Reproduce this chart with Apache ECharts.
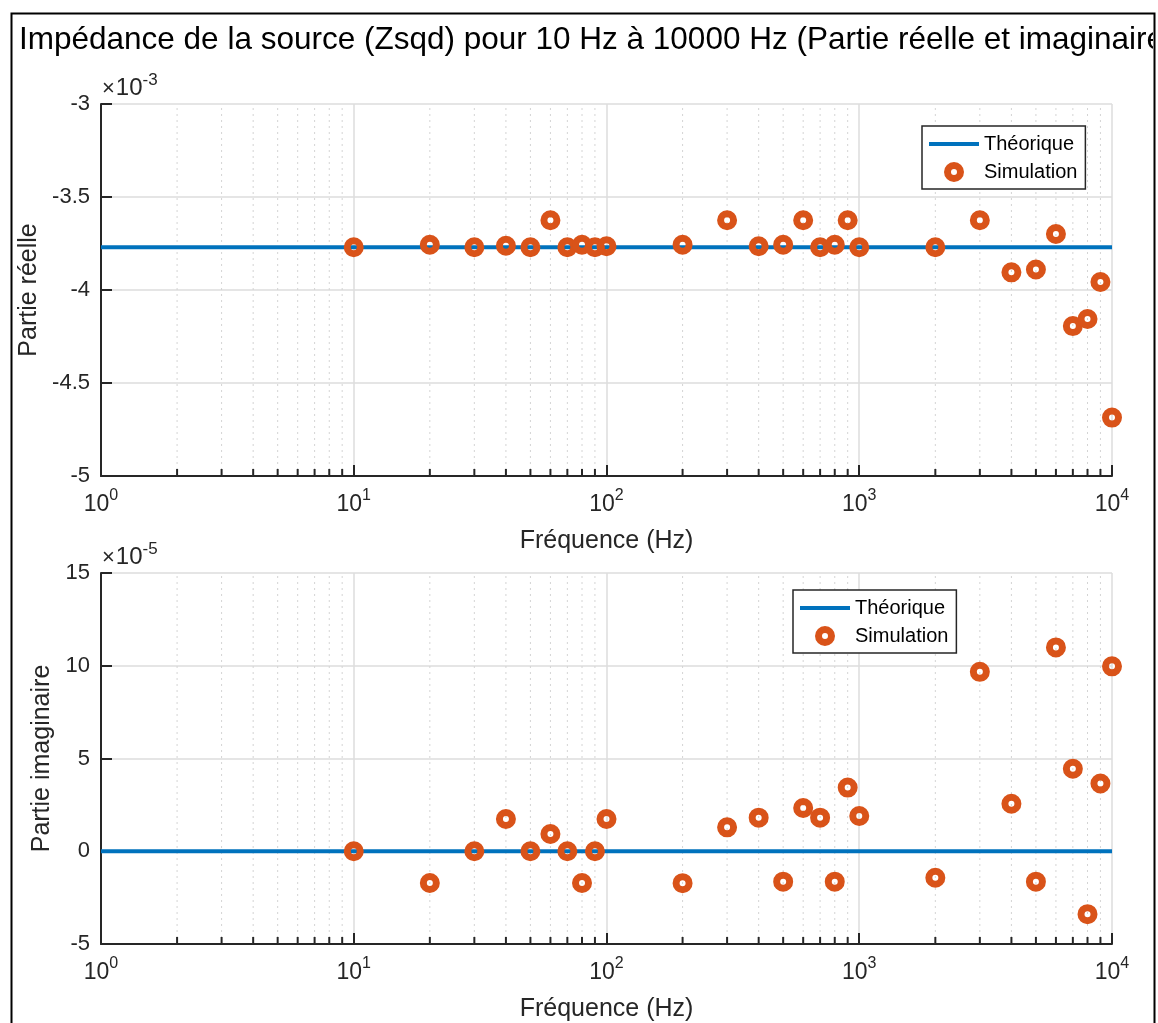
<!DOCTYPE html>
<html>
<head>
<meta charset="utf-8">
<script src="https://cdn.jsdelivr.net/npm/echarts@6/dist/echarts.min.js"></script>
<style>
  html, body { margin: 0; padding: 0; background: #fff; }
  #chart { width: 1158px; height: 1023px; }
</style>
</head>
<body>
<div id="chart"></div>
<script>
// Fréquences simulées (Hz)
const freq = [10, 20, 30, 40, 50, 60, 70, 80, 90, 100,
              200, 300, 400, 500, 600, 700, 800, 900, 1000,
              2000, 3000, 4000, 5000, 6000, 7000, 8000, 9000, 10000];

// Partie réelle de Zsqd (simulation)
const simReelle = [-3.770e-3, -3.757e-3, -3.770e-3, -3.762e-3, -3.770e-3, -3.625e-3, -3.770e-3, -3.757e-3, -3.770e-3, -3.765e-3,
                   -3.757e-3, -3.625e-3, -3.765e-3, -3.757e-3, -3.625e-3, -3.770e-3, -3.757e-3, -3.625e-3, -3.770e-3,
                   -3.770e-3, -3.625e-3, -3.905e-3, -3.890e-3, -3.699e-3, -4.194e-3, -4.156e-3, -3.957e-3, -4.686e-3];

// Partie imaginaire de Zsqd (simulation)
const simImag = [0, -1.71e-5, 0, 1.74e-5, 0, 0.93e-5, 0, -1.71e-5, 0, 1.74e-5,
                 -1.72e-5, 1.29e-5, 1.81e-5, -1.64e-5, 2.33e-5, 1.81e-5, -1.64e-5, 3.43e-5, 1.90e-5,
                 -1.43e-5, 9.67e-5, 2.56e-5, -1.64e-5, 10.99e-5, 4.45e-5, -3.39e-5, 3.65e-5, 9.97e-5];

// Valeurs théoriques (constantes sur toute la plage)
const theoFreq = [1, 10000];
const theoReelle = [-3.770e-3, -3.770e-3];
const theoImag = [0, 0];

// Graduations secondaires de l'axe logarithmique
const minorFreq = [2, 3, 4, 5, 6, 7, 8, 9,
                   20, 30, 40, 50, 60, 70, 80, 90,
                   200, 300, 400, 500, 600, 700, 800, 900,
                   2000, 3000, 4000, 5000, 6000, 7000, 8000, 9000];

const yReelle = { min: -5e-3, max: -3e-3, interval: 0.5e-3 };
const yImag = { min: -5e-5, max: 15e-5, interval: 5e-5 };

const FONT = 'Liberation Sans, Arial, Helvetica, sans-serif';
const AXIS_COLOR = '#262626';
const BLUE = '#0072BD';
const ORANGE = '#D95319';

const chart = echarts.init(document.getElementById('chart'), null, { renderer: 'canvas' });

function zip(xs, ys) { return xs.map((x, i) => [x, ys[i]]); }

function xAxisDef(gridIndex) {
  return {
    type: 'log', logBase: 10, gridIndex: gridIndex, min: 1, max: 10000,
    name: 'Fréquence (Hz)', nameLocation: 'middle', nameGap: 53,
    nameTextStyle: { fontFamily: FONT, fontSize: 25, color: AXIS_COLOR },
    axisLine: { show: true, onZero: false, lineStyle: { color: AXIS_COLOR, width: 2 } },
    axisTick: { show: true, inside: true, length: 11, lineStyle: { color: AXIS_COLOR, width: 2 } },
    minorTick: { show: false },
    axisLabel: {
      margin: 12, color: AXIS_COLOR, fontFamily: FONT,
      formatter: v => '{b|10}{s|' + Math.round(Math.log10(v)) + '}',
      rich: {
        b: { fontSize: 23, fontFamily: FONT, color: AXIS_COLOR, lineHeight: 28, verticalAlign: 'bottom' },
        s: { fontSize: 16, fontFamily: FONT, color: AXIS_COLOR, lineHeight: 16, verticalAlign: 'top' }
      }
    },
    splitLine: { show: true, lineStyle: { color: '#dcdcdc', width: 1.5 } }
  };
}

function yAxisDef(gridIndex, range, name, nameGap, fmt) {
  return {
    type: 'value', gridIndex: gridIndex,
    min: range.min, max: range.max, interval: range.interval,
    name: name, nameLocation: 'middle', nameGap: nameGap,
    nameTextStyle: { fontFamily: FONT, fontSize: 25, color: AXIS_COLOR },
    axisLine: { show: true, onZero: false, lineStyle: { color: AXIS_COLOR, width: 2 } },
    axisTick: { show: true, inside: true, length: 11, lineStyle: { color: AXIS_COLOR, width: 2 } },
    axisLabel: { margin: 11, fontSize: 22, fontFamily: FONT, color: AXIS_COLOR, formatter: fmt },
    splitLine: { show: true, lineStyle: { color: '#dcdcdc', width: 1.5 } }
  };
}

// Grille secondaire pointillée + petites graduations (coordonnées via l'axe log)
function minorSeries(idx, range) {
  return {
    type: 'custom', xAxisIndex: idx, yAxisIndex: idx, silent: true, z: 1,
    data: minorFreq.map(f => [f, range.min]),
    renderItem: function (params, api) {
      const f = api.value(0);
      const p0 = api.coord([f, range.min]);
      const p1 = api.coord([f, range.max]);
      return {
        type: 'group',
        children: [
          { type: 'line', shape: { x1: p0[0], y1: p0[1], x2: p1[0], y2: p1[1] },
            style: { stroke: '#d4d4d4', lineWidth: 1, lineDash: [2, 4] } },
          { type: 'line', shape: { x1: p0[0], y1: p0[1], x2: p0[0], y2: p0[1] - 7 },
            style: { stroke: AXIS_COLOR, lineWidth: 2 } }
        ]
      };
    }
  };
}

function theoSeries(idx, ys) {
  return {
    name: 'Théorique', type: 'line', xAxisIndex: idx, yAxisIndex: idx, z: 2,
    data: zip(theoFreq, ys), showSymbol: false, symbol: 'none', silent: true,
    lineStyle: { color: BLUE, width: 4 }, itemStyle: { color: BLUE }
  };
}

function simSeries(idx, ys) {
  return {
    name: 'Simulation', type: 'scatter', xAxisIndex: idx, yAxisIndex: idx, z: 3,
    data: zip(freq, ys), symbol: 'circle', symbolSize: 13, silent: true,
    itemStyle: { color: 'rgba(0,0,0,0)', borderColor: ORANGE, borderWidth: 7, opacity: 1 }
  };
}

const legendItems = [
  { name: 'Théorique', icon: 'path://M0,0L50,0L50,4L0,4Z', itemStyle: { color: BLUE, borderWidth: 0 } },
  { name: 'Simulation', icon: 'circle', itemStyle: { color: 'rgba(0,0,0,0)', borderColor: ORANGE, borderWidth: 7 } }
];

function legendDef(left, top) {
  return {
    orient: 'vertical', left: left, top: top,
    backgroundColor: '#fff', borderColor: '#262626', borderWidth: 1.5, borderRadius: 0,
    padding: [8, 8, 7, 7], itemWidth: 50, itemHeight: 13, itemGap: 8,
    textStyle: { fontFamily: FONT, fontSize: 20, color: '#000' },
    selectedMode: false,
    data: legendItems
  };
}

function expLabel(top, exp) {
  return {
    type: 'text', left: 102, top: top, z: 10,
    style: {
      text: '{x|×}{b|10}{s|' + exp + '}',
      fontSize: 23, fontFamily: FONT, fill: AXIS_COLOR,
      rich: {
        x: { fontSize: 22, fontFamily: FONT, fill: AXIS_COLOR, lineHeight: 28, verticalAlign: 'bottom', padding: [0, 1, 0, 0] },
        b: { fontSize: 24, fontFamily: FONT, fill: AXIS_COLOR, lineHeight: 28, verticalAlign: 'bottom' },
        s: { fontSize: 17, fontFamily: FONT, fill: AXIS_COLOR, lineHeight: 17, verticalAlign: 'top' }
      }
    }
  };
}

const option = {
  animation: false,
  backgroundColor: '#fff',
  title: {
    text: 'Impédance de la source (Zsqd) pour 10 Hz à 10000 Hz (Partie réelle et imaginaire)',
    left: 19, top: 24, padding: 0,
    textStyle: { fontFamily: FONT, fontSize: 31.5, fontWeight: 'normal', color: '#000' }
  },
  grid: [
    { left: 101, top: 104, width: 1011, height: 372 },
    { left: 101, top: 573, width: 1011, height: 372 }
  ],
  xAxis: [xAxisDef(0), xAxisDef(1)],
  yAxis: [
    yAxisDef(0, yReelle, 'Partie réelle', 59, v => String(Math.round(v * 1e4) / 10)),
    yAxisDef(1, yImag, 'Partie imaginaire', 46, v => String(Math.round(v * 1e5)))
  ],
  legend: [
    legendDef(922, 126),
    legendDef(793, 590)
  ],
  series: [
    minorSeries(0, yReelle),
    theoSeries(0, theoReelle),
    simSeries(0, simReelle),
    minorSeries(1, yImag),
    theoSeries(1, theoImag),
    simSeries(1, simImag)
  ],
  graphic: [
    expLabel(72, '-3'),
    expLabel(541, '-5'),
    // masque à droite du cadre (titre tronqué)
    { type: 'rect', left: 1153, top: 0, z: 20, shape: { width: 10, height: 1023 }, style: { fill: '#fff' } },
    // cadre de la figure
    { type: 'rect', left: 9, top: 11, z: 21, shape: { width: 1143, height: 1040 },
      style: { fill: 'none', stroke: '#000', lineWidth: 2 } }
  ]
};

chart.setOption(option);
</script>
</body>
</html>
